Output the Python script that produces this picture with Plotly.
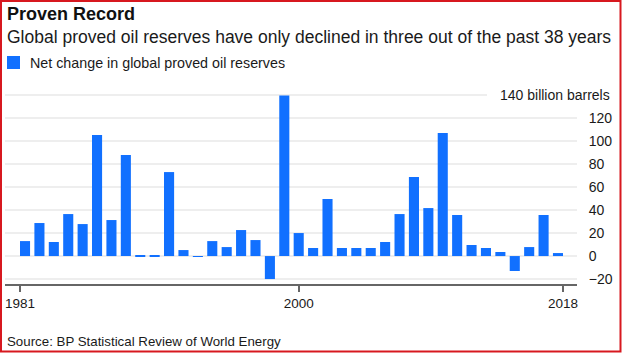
import plotly.graph_objects as go

# ---- data ----
years = list(range(1981, 2019))
net_change = [13, 28.7, 12.2, 36.5, 27.8, 105.2, 31.3, 87.8, 0.5, 0.9,
              73, 5.2, -0.5, 13, 7.8, 22.6, 13.9, -20, 139.5, 20,
              7, 49.6, 7, 7, 7, 12.2, 36.5, 68.7, 41.7, 107,
              35.7, 9.6, 7, 3.5, -13, 7.8, 35.7, 2.6]
y_ticks = [-20, 0, 20, 40, 60, 80, 100, 120]
x_tick_labels = ["1981", "2000", "2018"]
x_tick_pos = [1980.65, 2000, 2018.35]

title = "Proven Record"
subtitle = "Global proved oil reserves have only declined in three out of the past 38 years"
legend_label = "Net change in global proved oil reserves"
unit_label = "140 billion barrels"
source = "Source: BP Statistical Review of World Energy"

# ---- geometry ----
W, H = 623, 353
L, R, T, B = 5, 46, 92, 69
pw, ph = W - L - R, H - T - B

def px(x):
    return (x - L) / pw

def py(y):
    return (H - B - y) / ph

FONT = "Liberation Sans, Arial, sans-serif"
BLUE = "#1170ff"
TXT = "#1a1a1a"

fig = go.Figure()
fig.add_trace(go.Bar(x=years, y=net_change, marker=dict(color=BLUE, line=dict(width=0)),
                     width=0.7, showlegend=False, name=legend_label))

fig.update_layout(
    width=W, height=H, margin=dict(l=L, r=R, t=T, b=B),
    paper_bgcolor="white", plot_bgcolor="white",
    font=dict(family=FONT, color=TXT, size=13),
    bargap=0.3,
    xaxis=dict(range=[1979.61, 2019.32], tickvals=x_tick_pos, ticktext=x_tick_labels,
               showgrid=False, zeroline=False, showline=True, linecolor="#666666", linewidth=2,
               ticks="outside", ticklen=6, tickwidth=1.5, tickcolor="#666666",
               tickfont=dict(size=13.5, color=TXT), fixedrange=True),
    yaxis=dict(range=[-24.3, 142.6], side="right", tickvals=y_ticks,
               showgrid=True, gridcolor="#eeeeee", gridwidth=2,
               zeroline=False, showline=False, ticks="outside", ticklen=8,
               tickcolor="rgba(0,0,0,0)", tickfont=dict(size=14, color=TXT), fixedrange=True),
)

# 140 gridline (partial) behind the unit label
fig.add_shape(type="line", xref="paper", yref="y", x0=0, x1=px(487), y0=140, y1=140,
              line=dict(color="#eeeeee", width=2), layer="below")

annotations = [
    dict(text="<b>" + title + "</b>", x=px(5), y=py(14), font=dict(size=18, color="#111111")),
    dict(text=subtitle, x=px(5), y=py(37), font=dict(size=17.5, color=TXT)),
    dict(text=legend_label, x=px(28), y=py(63), font=dict(size=14.3, color=TXT)),
    dict(text=source, x=px(5), y=py(341), font=dict(size=13.3, color=TXT)),
]
for a in annotations:
    fig.add_annotation(xref="paper", yref="paper", xanchor="left", yanchor="middle",
                       showarrow=False, **a)
fig.add_annotation(text=unit_label, xref="paper", yref="y", x=px(612), y=140,
                   xanchor="right", yanchor="middle", showarrow=False,
                   font=dict(size=14, color=TXT))

# legend square
fig.add_shape(type="rect", xref="paper", yref="paper", x0=px(7), x1=px(20), y0=py(69), y1=py(56),
              fillcolor=BLUE, line=dict(width=0))
# red frame
fig.add_shape(type="rect", xref="paper", yref="paper", x0=px(1), x1=px(620.5), y0=py(351.5), y1=py(1),
              line=dict(color="#d7181f", width=2), fillcolor="rgba(0,0,0,0)")

fig.write_html("out.html", config=dict(displayModeBar=False))
